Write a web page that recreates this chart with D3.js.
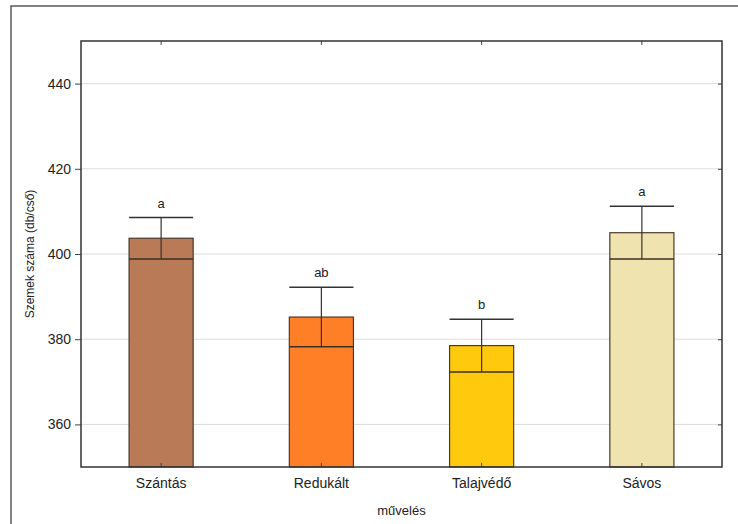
<!DOCTYPE html>
<html>
<head>
<meta charset="utf-8">
<script src="https://cdn.jsdelivr.net/npm/d3@7"></script>
<style>
  body { margin: 0; background: #fff; }
  text { font-family: "Liberation Sans", Arial, sans-serif; fill: #222; }
</style>
</head>
<body>
<svg id="chart" width="738" height="524"></svg>
<script>
const categories = ["Szántás", "Redukált", "Talajvédő", "Sávos"];
const means = [403.7, 385.2, 378.5, 405.0];
const errors = [4.85, 7.0, 6.2, 6.2];
const letters = ["a", "ab", "b", "a"];
const colors = ["#B97A57", "#FF7F27", "#FFC90E", "#EFE4B0"];
const yTicks = [360, 380, 400, 420, 440];
const yDomain = [350, 450];

const svg = d3.select("#chart");
const margin = { left: 81, top: 41, right: 738 - 722, bottom: 524 - 467 };
const W = 738, H = 524;

// outer frame
svg.append("rect")
  .attr("x", 11).attr("y", 6).attr("width", 760).attr("height", 540)
  .attr("fill", "none").attr("stroke", "#5a5a5a").attr("stroke-width", 1.5);

const x = d3.scaleBand().domain(categories)
  .range([margin.left, W - margin.right])
  .paddingInner(0.6).paddingOuter(0.3);
const y = d3.scaleLinear().domain(yDomain).range([H - margin.bottom, margin.top]);

// gridlines
svg.append("g").selectAll("line").data(yTicks).join("line")
  .attr("x1", margin.left).attr("x2", W - margin.right)
  .attr("y1", d => y(d)).attr("y2", d => y(d))
  .attr("stroke", "#dcdcdc").attr("stroke-width", 1);

// bars
const g = svg.append("g");
categories.forEach((c, i) => {
  const x0 = x(c), bw = x.bandwidth(), cx = x0 + bw / 2;
  g.append("rect")
    .attr("x", x0).attr("y", y(means[i]))
    .attr("width", bw).attr("height", y(yDomain[0]) - y(means[i]))
    .attr("fill", colors[i]).attr("stroke", "#4b3a2c").attr("stroke-width", 1.2);
  const top = y(means[i] + errors[i]), low = y(means[i] - errors[i]);
  g.append("line").attr("x1", cx).attr("x2", cx).attr("y1", top).attr("y2", low)
    .attr("stroke", "#333").attr("stroke-width", 1.2);
  g.append("line").attr("x1", x0).attr("x2", x0 + bw).attr("y1", top).attr("y2", top)
    .attr("stroke", "#333").attr("stroke-width", 1.5);
  g.append("line").attr("x1", x0).attr("x2", x0 + bw).attr("y1", low).attr("y2", low)
    .attr("stroke", "#3d2e22").attr("stroke-width", 1.5);
  g.append("text").attr("x", cx).attr("y", top - 10)
    .attr("text-anchor", "middle").attr("font-size", 13).text(letters[i]);
});

// axes
const left = svg.append("g").attr("transform", `translate(${margin.left},0)`)
  .call(d3.axisLeft(y).tickValues(yTicks).tickSize(6).tickPadding(4).tickFormat(d3.format("d")));
left.select(".domain").remove();
left.selectAll("text").attr("font-size", 14).attr("fill", "#222");
left.selectAll("line").attr("stroke", "#444");

const right = svg.append("g").attr("transform", `translate(${W - margin.right},0)`)
  .call(d3.axisLeft(y).tickValues(yTicks).tickSize(4).tickFormat(""));
right.select(".domain").remove();
right.selectAll("line").attr("stroke", "#444");

const bottom = svg.append("g").attr("transform", `translate(0,${H - margin.bottom})`)
  .call(d3.axisTop(x).tickSize(4).tickFormat(""));
bottom.select(".domain").remove();
bottom.selectAll("line").attr("stroke", "#444");

const topAx = svg.append("g").attr("transform", `translate(0,${margin.top})`)
  .call(d3.axisBottom(x).tickSize(4).tickFormat(""));
topAx.select(".domain").remove();
topAx.selectAll("line").attr("stroke", "#444");

// x labels
svg.append("g").selectAll("text").data(categories).join("text")
  .attr("x", d => x(d) + x.bandwidth() / 2).attr("y", 488)
  .attr("text-anchor", "middle").attr("font-size", 14).text(d => d);

// plot frame
svg.append("rect")
  .attr("x", margin.left).attr("y", margin.top)
  .attr("width", W - margin.left - margin.right).attr("height", H - margin.top - margin.bottom)
  .attr("fill", "none").attr("stroke", "#333").attr("stroke-width", 1.5);

// axis titles
svg.append("text").attr("x", (margin.left + W - margin.right) / 2).attr("y", 515)
  .attr("text-anchor", "middle").attr("font-size", 13).text("művelés");
svg.append("text").attr("transform", `translate(34,${(margin.top + H - margin.bottom) / 2}) rotate(-90)`)
  .attr("text-anchor", "middle").attr("font-size", 12).text("Szemek száma (db/cső)");
</script>
</body>
</html>
